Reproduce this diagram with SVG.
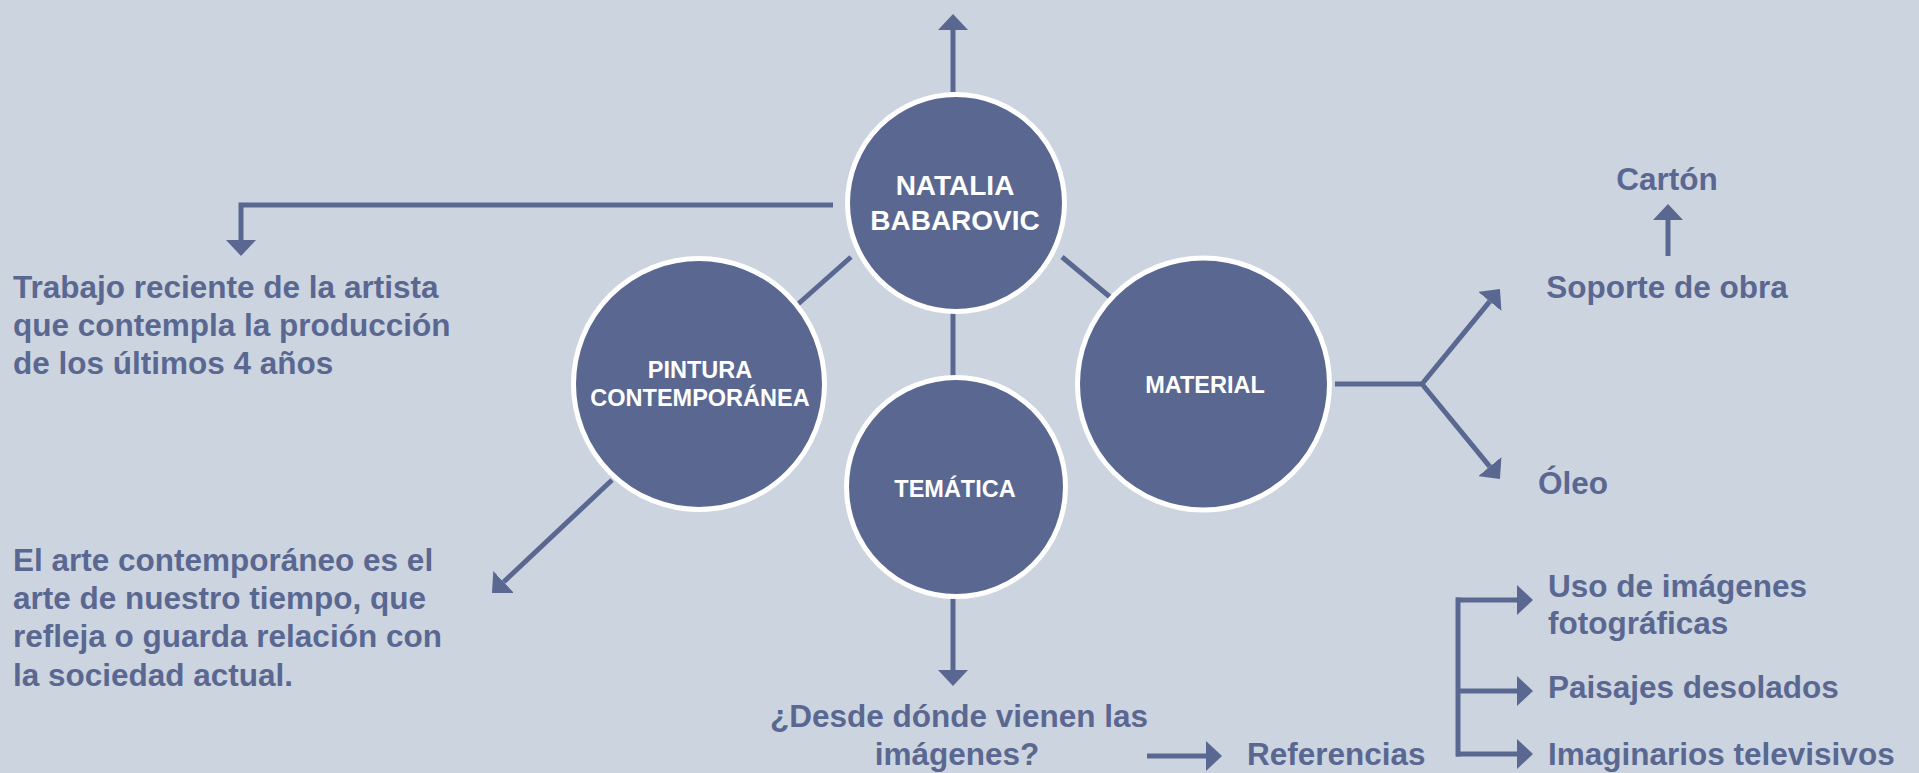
<svg xmlns="http://www.w3.org/2000/svg" width="1919" height="773" viewBox="0 0 1919 773">
<style>
.bg{fill:#CCD4E0}
.circ{fill:#5A6891;stroke:#FFFFFF;stroke-width:5}
.ctext{font-family:"Liberation Sans",Arial,sans-serif;font-weight:bold;fill:#FFFFFF;text-anchor:middle}
.lbl{font-family:"Liberation Sans",Arial,sans-serif;font-weight:bold;font-size:31.5px;fill:#5A6891}
.conn{fill:none;stroke:#5A6891;stroke-width:5;stroke-linejoin:miter}
</style>
<defs>
<marker id="ah" viewBox="0 0 16 30" markerWidth="16" markerHeight="30" refX="0" refY="15" orient="auto" markerUnits="userSpaceOnUse">
<path d="M0,0 L16,15 L0,30 Z" fill="#5A6891"/>
</marker>
</defs>
<rect class="bg" x="0" y="0" width="1919" height="773"/>

<g id="connectors">
<path class="conn" d="M953,92 V30" marker-end="url(#ah)"/>
<path class="conn" d="M833,205 H241 V240" marker-end="url(#ah)"/>
<path class="conn" d="M851,257 L797,305"/>
<path class="conn" d="M1062,257 L1110,297"/>
<path class="conn" d="M953,313 V377"/>
<path class="conn" d="M612,480 L503.6,582" marker-end="url(#ah)"/>
<path class="conn" d="M953,598 V670" marker-end="url(#ah)"/>
<path class="conn" d="M1147,756 H1206" marker-end="url(#ah)"/>
<path class="conn" d="M1335,384 H1422"/>
<path class="conn" d="M1422,384 L1489.8,301.4" marker-end="url(#ah)"/>
<path class="conn" d="M1422,384 L1489.8,466.6" marker-end="url(#ah)"/>
<path class="conn" d="M1668,256 V220" marker-end="url(#ah)"/>
<path class="conn" d="M1458,597.5 V756.5"/>
<path class="conn" d="M1456,600 H1517" marker-end="url(#ah)"/>
<path class="conn" d="M1458,691 H1517" marker-end="url(#ah)"/>
<path class="conn" d="M1456,754 H1517" marker-end="url(#ah)"/>
</g>

<g id="natalia">
<circle class="circ" cx="956" cy="203" r="108.5"/>
<text class="ctext" font-size="28" x="955" y="195">NATALIA</text>
<text class="ctext" font-size="28" x="955" y="230">BABAROVIC</text>
</g>

<g id="pintura">
<circle class="circ" cx="699" cy="384" r="125.5"/>
<text class="ctext" font-size="23.5" x="700" y="378">PINTURA</text>
<text class="ctext" font-size="23.5" x="700" y="406">CONTEMPORÁNEA</text>
</g>

<g id="tematica">
<circle class="circ" cx="956" cy="487" r="109.5"/>
<text class="ctext" font-size="23.5" x="955" y="497">TEMÁTICA</text>
</g>

<g id="material">
<circle class="circ" cx="1203.5" cy="384" r="126"/>
<text class="ctext" font-size="23.5" x="1205" y="393">MATERIAL</text>
</g>

<g id="trabajo">
<text class="lbl" x="13" y="298">Trabajo reciente de la artista</text>
<text class="lbl" x="13" y="336">que contempla la producción</text>
<text class="lbl" x="13" y="374">de los últimos 4 años</text>
</g>

<g id="arte">
<text class="lbl" x="13" y="571">El arte contemporáneo es el</text>
<text class="lbl" x="13" y="609">arte de nuestro tiempo, que</text>
<text class="lbl" x="13" y="647">refleja o guarda relación con</text>
<text class="lbl" x="13" y="686">la sociedad actual.</text>
</g>

<g id="desde">
<text class="lbl" x="959" y="727" text-anchor="middle">¿Desde dónde vienen las</text>
<text class="lbl" x="957" y="765" text-anchor="middle">imágenes?</text>
</g>

<g id="referencias">
<text class="lbl" x="1247" y="765">Referencias</text>
</g>

<g id="soporte">
<text class="lbl" x="1667" y="298" text-anchor="middle">Soporte de obra</text>
</g>

<g id="carton">
<text class="lbl" x="1667" y="190" text-anchor="middle">Cartón</text>
</g>

<g id="oleo">
<text class="lbl" x="1538" y="494">Óleo</text>
</g>

<g id="uso">
<text class="lbl" x="1548" y="597">Uso de imágenes</text>
<text class="lbl" x="1548" y="634">fotográficas</text>
</g>

<g id="paisajes">
<text class="lbl" x="1548" y="698">Paisajes desolados</text>
</g>

<g id="imaginarios">
<text class="lbl" x="1548" y="765">Imaginarios televisivos</text>
</g>
</svg>
